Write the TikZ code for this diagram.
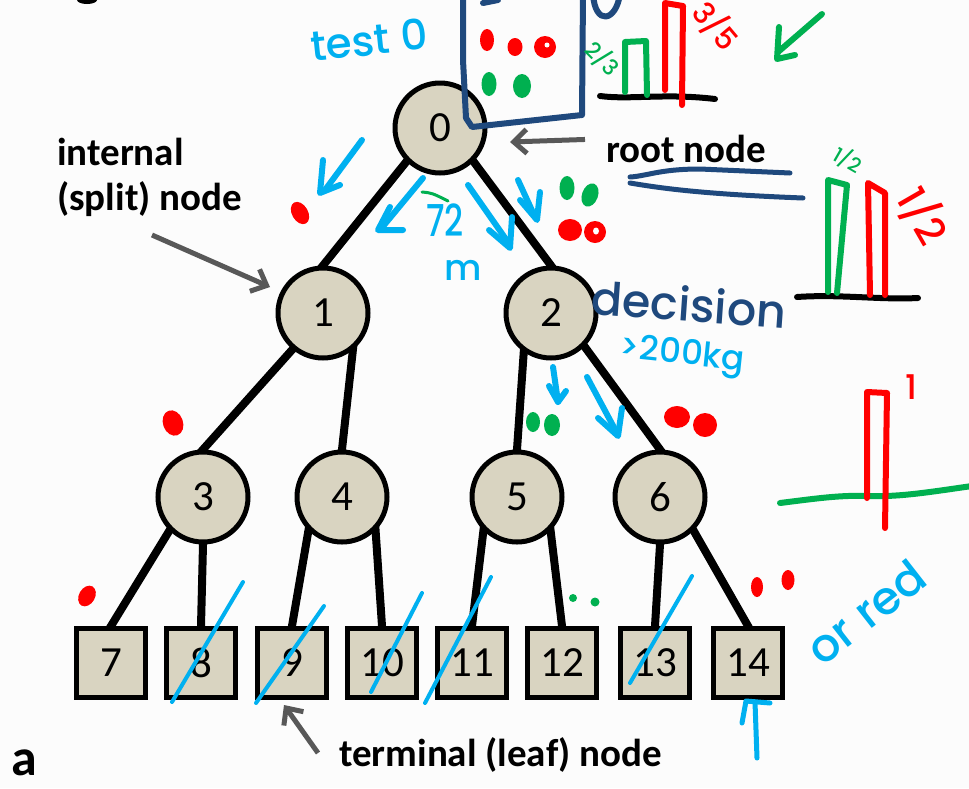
\documentclass[tikz,border=0pt]{standalone}
\usepackage{fontspec}
\setmainfont{Carlito}
\IfFontExistsTF{Poppins Medium}
  {\newfontfamily\handfont{Poppins Medium}}
  {\newfontfamily\handfont{Poppins}}
\usetikzlibrary{arrows.meta}
\pgfdeclarelayer{back}
\pgfsetlayers{back,main}
\definecolor{nodefill}{RGB}{217,212,193}
\definecolor{pointer}{RGB}{88,88,88}
\definecolor{inkcyan}{RGB}{0,176,240}
\definecolor{inknavy}{RGB}{31,73,125}
\definecolor{inkred}{RGB}{255,0,0}
\definecolor{inkgreen}{RGB}{0,176,80}
\definecolor{paper}{RGB}{252,252,252}
\tikzset{
  inode/.style={circle, draw=black, line width=5pt, fill=nodefill, minimum size=90pt,
    inner sep=0pt, font=\fontsize{43}{43}\selectfont},
  leaf/.style={rectangle, draw=black, line width=5pt, fill=nodefill, minimum size=69pt,
    inner sep=0pt, font=\fontsize{43}{43}\selectfont},
  branch/.style={line width=8pt, shorten <=-8pt, shorten >=-8pt},
  pointerarrow/.style={draw=pointer, line width=5pt, -{Straight Barb[length=13pt,width=24pt]}},
  lbl/.style={inner sep=0pt, anchor=base west, font=\bfseries\fontsize{39}{44}\selectfont},
  pen/.style={line width=6pt, line cap=round, line join=round},
  slash/.style={draw=inkcyan, line width=4pt, line cap=round},
  hw/.style={inner sep=0pt, font={\handfont\fontsize{#1}{#1}\selectfont}},
}
\begin{document}
\begin{tikzpicture}[x=1pt,y=-1pt]
\useasboundingbox (0,0) rectangle (969,788);
\begin{pgfonlayer}{back}
  \fill[paper] (0,0) rectangle (969,788);
\end{pgfonlayer}
\fill (87,0) ellipse [x radius=10pt, y radius=4pt];

% tree nodes
\node[inode] (n0) at (440,128) {0};
\node[inode] (n1) at (323,313) {1};
\node[inode] (n2) at (551,313) {2};
\node[inode] (n3) at (203,497) {3};
\node[inode] (n4) at (342,497) {4};
\node[inode] (n5) at (517,497) {5};
\node[inode] (n6) at (660,497) {6};
\node[leaf] (l7)  at (111,663) {7};
\node[leaf] (l8)  at (201,663) {8};
\node[leaf] (l9)  at (292,663) {9};
\node[leaf] (l10) at (382,663) {10};
\node[leaf] (l11) at (472,663) {11};
\node[leaf] (l12) at (562,663) {12};
\node[leaf] (l13) at (655,663) {13};
\node[leaf] (l14) at (748,663) {14};

% branches, kept under the nodes
\begin{pgfonlayer}{back}
  \draw[branch] (n0.225) -- (n1.north);
  \draw[branch] (n0.315) -- (n2.north);
  \draw[branch] (n1.230) -- (n3.north);
  \draw[branch] (n1.309) -- (n4.north);
  \draw[branch] (n2.235) -- (n5.north);
  \draw[branch] (n2.315) -- (n6.north);
  \draw[branch] (n3.225) -- (l7.north);
  \draw[branch] (n3.south) -- (l8.north);
  \draw[branch] (n4.225) -- (l9.north);
  \draw[branch] (n4.315) -- (l10.north);
  \draw[branch] (n5.225) -- (l11.north);
  \draw[branch] (n5.315) -- (l12.north);
  \draw[branch] (n6.south) -- (l13.north);
  \draw[branch] (n6.315) -- (l14.north);
\end{pgfonlayer}

% printed labels and pointers
\node[lbl] (rootlbl) at (606,162) {root node};
\node[lbl] (intlbl1) at (57,165) {internal};
\node[lbl] (intlbl2) at (57,210) {(split) node};
\node[lbl] (leaflbl) at (339,766) {terminal (leaf) node};
\node[inner sep=0pt, anchor=base west, text depth=0pt,
  font=\bfseries\fontsize{52}{52}\selectfont] (panel) at (11,775) {a};
\coordinate (rootptr) at (510,142);
\coordinate (intptr) at (270,287);
\coordinate (leafptr) at (284,705);
\draw[pointerarrow] (rootlbl.west) ++(-21,-9) -- (rootptr);
\draw[pointerarrow] (152,235) -- (intptr);
\draw[pointerarrow] (318,753) -- (leafptr);

% ---- handwritten notes ----
% sample box at the root
\draw[pen, inknavy] (463,-6) -- (463,60) -- (466,118) -- (472,127) -- (582,115) -- (583,-6);
\draw[pen, inknavy] (483,3) -- (498,0);
\draw[pen, inknavy] (593,-6) .. controls (595,26) and (616,22) .. (620,-6);
\fill[inkred] (487,40) ellipse [x radius=7pt, y radius=11pt];
\fill[inkred] (515,47) ellipse [x radius=7.5pt, y radius=9pt];
\fill[inkred] (545,47) ellipse [x radius=11pt, y radius=11pt];
\fill[white] (547,45) circle [radius=2.5pt];
\fill[inkgreen] (489,84) ellipse [x radius=7.5pt, y radius=12pt];
\fill[inkgreen] (522,86) ellipse [x radius=9pt, y radius=12pt];
\node[hw=42, inkcyan, rotate=6] (testlbl) at (369,40) {test 0};

% class histogram at the root
\draw[pen] (600,96) .. controls (630,100) and (665,93) .. (715,99);
\draw[pen, inkgreen] (625,92) -- (625,42) -- (646,41) -- (647,95);
\draw[pen, inkred] (665,90) -- (665,3) -- (683,6) -- (682,105);
\node[hw=22, inkgreen, rotate=-45] (frgreen) at (603,59) {2/3};
\node[hw=30, inkred, rotate=-50] (frred) at (716,26) {3/5};
\draw[pen, inkgreen] (822,14) -- (778,52);
\draw[pen, inkgreen] (779,27) -- (777,59) -- (795,55);

% underline of the root label
\draw[pen, inknavy, line width=5pt] (630,177) .. controls (647,176) and (660,169) .. (700,169) -- (790,173);
\draw[pen, inknavy, line width=5pt] (630,183) .. controls (660,188) and (700,194) .. (803,198);

% class histogram after the split
\draw[pen] (797,297) .. controls (840,294) and (880,300) .. (918,298);
\draw[pen, inkgreen] (828,292) -- (828,180) -- (847,185) -- (837,293);
\draw[pen, inkred] (870,295) -- (868,183) -- (885,193) -- (885,295);
\node[hw=20, inkgreen, rotate=-30] (halfg) at (848,160) {1/2};
\node[hw=40, inkred, rotate=-60] (halfr) at (923,216) {1/2};

% arrows along the root branches
\draw[pen, inkcyan] (362,140) -- (325,190);
\draw[pen, inkcyan] (323,160) -- (320,193) -- (340,185);
\draw[pen, inkcyan] (423,178) -- (380,230);
\draw[pen, inkcyan] (390,207) -- (378,230) -- (403,230);
\draw[pen, inkcyan] (468,185) -- (510,245);
\draw[pen, inkcyan] (489,230) -- (510,248) -- (512,217);
\draw[pen, inkcyan] (518,180) -- (535,217);
\draw[pen, inkcyan] (520,200) -- (537,220) -- (540,192);
\node[hw=44, inkcyan, xscale=0.75, transform shape] (heightlbl) at (445,220) {72};
\draw[inkgreen, line width=3pt, line cap=round] (422,192) .. controls (432,193) .. (448,201);
\node[hw=36, inkcyan] (unitlbl) at (463,270) {m};
\fill[inkred, rotate around={30:(300,213)}] (300,213) ellipse [x radius=8pt, y radius=12pt];
\fill[inkgreen] (567,188) ellipse [x radius=7.5pt, y radius=12pt];
\fill[inkgreen, rotate around={-20:(590,195)}] (590,195) ellipse [x radius=8pt, y radius=12pt];
\fill[inkred] (570,230) ellipse [x radius=12pt, y radius=11pt];
\fill[inkred] (595,232) ellipse [x radius=11pt, y radius=11pt];
\fill[white] (596,231) ellipse [x radius=3pt, y radius=3.5pt];

% decision at node 2
\node[hw=46, inknavy, rotate=-4] (declbl) at (689,304) {decision};
\node[hw=34, inkcyan, rotate=-6] (kglbl) at (682,356) {>200kg};
\draw[pen, inkcyan] (553,367) -- (558,402);
\draw[pen, inkcyan] (549,386) -- (558,402) -- (566,391);
\draw[pen, inkcyan] (587,377) -- (618,435);
\draw[pen, inkcyan] (598,418) -- (618,436) -- (622,408);
\fill[inkgreen] (533,422) ellipse [x radius=7pt, y radius=10pt];
\fill[inkgreen] (552,425) ellipse [x radius=8pt, y radius=11pt];
\fill[inkred] (677,417) ellipse [x radius=13pt, y radius=11pt];
\fill[inkred] (705,425) ellipse [x radius=12pt, y radius=12pt];

% pure histogram
\draw[pen, inkgreen] (780,503) .. controls (820,498) and (840,495) .. (870,496) .. controls (900,497) and (930,492) .. (972,486);
\draw[pen, inkred] (867,498) -- (867,392) -- (887,393) -- (885,528);
\node[hw=34, inkred] (onelbl) at (911,387) {1};

% leaves
\fill[inkred, rotate around={20:(173,423)}] (173,423) ellipse [x radius=10pt, y radius=13pt];
\fill[inkred, rotate around={-30:(87,596)}] (87,596) ellipse [x radius=8pt, y radius=11pt];
\fill[inkgreen] (573,598) circle [radius=4pt];
\fill[inkgreen] (595,602) circle [radius=4.5pt];
\fill[inkred] (757,587) ellipse [x radius=6pt, y radius=10pt];
\fill[inkred] (788,580) ellipse [x radius=6.5pt, y radius=10pt];
\draw[slash] (243,582) -- (172,702);
\draw[slash] (324,606) -- (256,703);
\draw[slash] (422,593) -- (371,692);
\draw[slash] (491,577) -- (425,703);
\draw[slash] (692,576) -- (630,683);
\draw[pen, inkcyan, line width=5pt] (757,758) -- (755,702);
\draw[pen, inkcyan, line width=5pt] (742,723) -- (746,701) -- (770,703);
\node[hw=46, inkcyan, rotate=38] (orlbl) at (866,612) {or red};
\end{tikzpicture}
\end{document}
